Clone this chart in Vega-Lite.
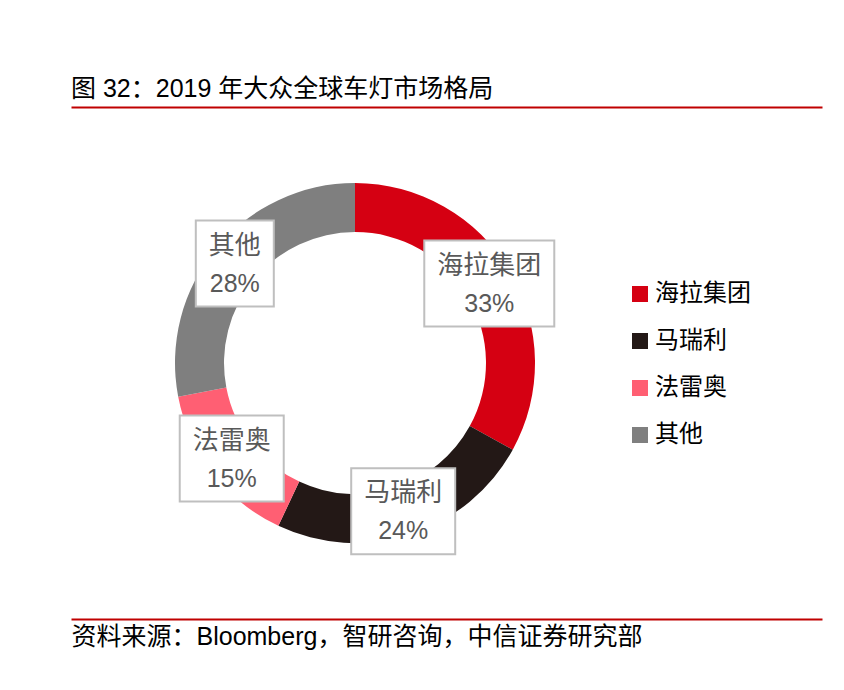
{
  "$schema": "https://vega.github.io/schema/vega-lite/v6.json",
  "autosize": {"type": "none"},
  "padding": {"left": 71, "top": 107, "right": 22, "bottom": 71},
  "width": 751,
  "height": 512,
  "background": "white",
  "title": {
    "text": "图 32：2019 年大众全球车灯市场格局",
    "anchor": "start",
    "frame": "group",
    "baseline": "alphabetic",
    "offset": -15,
    "fontSize": 25,
    "fontWeight": "normal",
    "color": "#000000",
    "font": "Liberation Sans, Noto Sans CJK SC, sans-serif"
  },
  "config": {
    "view": {"stroke": null},
    "font": "Liberation Sans, Noto Sans CJK SC, sans-serif"
  },
  "data": {
    "values": [
      {"name": "海拉集团", "share": 0.33, "order": 1},
      {"name": "马瑞利", "share": 0.24, "order": 2},
      {"name": "法雷奥", "share": 0.15, "order": 3},
      {"name": "其他", "share": 0.28, "order": 4}
    ]
  },
  "transform": [
    {"joinaggregate": [{"op": "sum", "field": "share", "as": "total"}]},
    {"window": [{"op": "sum", "field": "share", "as": "cum"}], "sort": [{"field": "order"}], "frame": [null, 0]},
    {"calculate": "2 * PI * (datum.cum - datum.share / 2) / datum.total", "as": "mid"},
    {"calculate": "156 * sin(datum.mid)", "as": "lx"},
    {"calculate": "156 * cos(datum.mid)", "as": "ly"},
    {"calculate": "length(datum.name) * 26 + 26", "as": "bw"},
    {"calculate": "datum.lx - datum.bw / 2", "as": "bx0"},
    {"calculate": "datum.lx + datum.bw / 2", "as": "bx1"},
    {"calculate": "datum.ly - 43", "as": "by0"},
    {"calculate": "datum.ly + 43", "as": "by1"}
  ],
  "resolve": {"axis": {"x": "independent"}},
  "layer": [
    {
      "mark": {"type": "arc", "outerRadius": 180, "innerRadius": 131},
      "encoding": {
        "x": {"datum": 0, "type": "quantitative", "scale": {"domain": [-284, 467], "nice": false, "zero": false}, "axis": null},
        "y": {"datum": 0, "type": "quantitative", "scale": {"domain": [-256, 256], "nice": false, "zero": false}, "axis": null},
        "theta": {"field": "share", "type": "quantitative", "stack": true},
        "order": {"field": "order", "type": "quantitative"},
        "color": {
          "field": "name",
          "type": "nominal",
          "scale": {
            "domain": ["海拉集团", "马瑞利", "法雷奥", "其他"],
            "range": ["#D50012", "#231816", "#FF5F73", "#7F7F7F"]
          },
          "legend": {
            "title": null,
            "orient": "none",
            "legendX": 557,
            "legendY": 175,
            "symbolType": "square",
            "symbolSize": 256,
            "symbolStrokeWidth": 0,
            "labelFontSize": 24,
            "labelColor": "#000000",
            "labelFont": "Liberation Sans, Noto Sans CJK SC, sans-serif",
            "labelOffset": 3,
            "rowPadding": 23,
            "labelLimit": 300
          }
        }
      }
    },
    {
      "mark": {"type": "rect", "fill": "#FFFFFF", "stroke": "#BFBFBF", "strokeWidth": 2},
      "encoding": {
        "x": {
          "field": "bx0", "type": "quantitative",
          "scale": {"domain": [-284, 467], "nice": false, "zero": false},
          "axis": {
            "orient": "bottom",
            "domainColor": "#C00000",
            "domainWidth": 2,
            "ticks": false,
            "labels": false,
            "grid": false,
            "minExtent": 0,
            "title": "资料来源：Bloomberg，智研咨询，中信证券研究部",
            "titleAnchor": "start",
            "titleAlign": "left",
            "titleBaseline": "top",
            "titlePadding": 5,
            "titleFontSize": 25,
            "titleFontWeight": "normal",
            "titleColor": "#000000",
            "titleFont": "Liberation Sans, Noto Sans CJK SC, sans-serif"
          }
        },
        "x2": {"field": "bx1"},
        "y": {"field": "by0", "type": "quantitative", "scale": {"domain": [-256, 256], "nice": false, "zero": false}, "axis": null},
        "y2": {"field": "by1"}
      }
    },
    {
      "mark": {"type": "text", "dy": -18, "fontSize": 26, "color": "#595959", "baseline": "middle", "align": "center", "font": "Noto Sans CJK SC, sans-serif"},
      "encoding": {
        "x": {
          "field": "lx", "type": "quantitative",
          "scale": {"domain": [-284, 467], "nice": false, "zero": false},
          "axis": {
            "orient": "top",
            "domainColor": "#C00000",
            "domainWidth": 2,
            "ticks": false,
            "labels": false,
            "grid": false,
            "title": null
          }
        },
        "y": {"field": "ly", "type": "quantitative", "scale": {"domain": [-256, 256], "nice": false, "zero": false}, "axis": null},
        "text": {"field": "name", "type": "nominal"}
      }
    },
    {
      "mark": {"type": "text", "dy": 20, "fontSize": 25, "color": "#595959", "baseline": "middle", "align": "center", "font": "Liberation Sans Narrow, Arial Narrow, Liberation Sans, sans-serif"},
      "encoding": {
        "x": {"field": "lx", "type": "quantitative", "scale": {"domain": [-284, 467], "nice": false, "zero": false}, "axis": null},
        "y": {"field": "ly", "type": "quantitative", "scale": {"domain": [-256, 256], "nice": false, "zero": false}, "axis": null},
        "text": {"field": "share", "type": "quantitative", "format": ".0%"}
      }
    }
  ]
}
